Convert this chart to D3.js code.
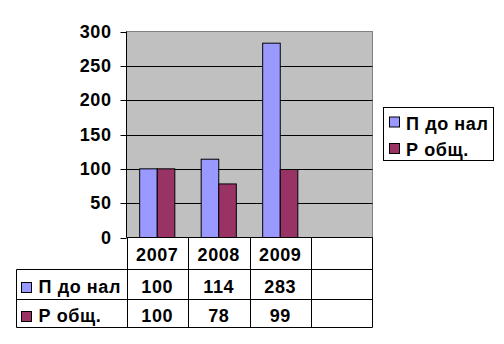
<!DOCTYPE html>
<html>
<head>
<meta charset="utf-8">
<script src="https://cdn.jsdelivr.net/npm/d3@7"></script>
<style>
  html, body { margin: 0; padding: 0; background: #fff; }
  svg text { font-family: Arial, "Liberation Sans", sans-serif; font-weight: bold; fill: #000; letter-spacing: 0.6px; }
</style>
</head>
<body>
<svg id="chart" width="504" height="344"></svg>
<script>
// Years shown along the table header; the last column is left blank.
const categories = ["2007", "2008", "2009", ""];
const seriesNames = ["П до нал", "Р общ."];
const seriesColors = ["#9999FF", "#993366"];
const profitBeforeTax = [100, 114, 283];
const totalCosts = [100, 78, 99];
const yTicks = [0, 50, 100, 150, 200, 250, 300];

const seriesValues = [profitBeforeTax, totalCosts];

const svg = d3.select("#chart");
const plot = { left: 126.5, right: 372.5, top: 31.5, bottom: 237.5 };
const fontSize = 18;

const x = d3.scaleBand().domain(categories).range([plot.left, plot.right]);
const xInner = d3.scaleBand().domain(seriesNames).range([0, x.bandwidth()])
  .paddingInner(0).paddingOuter(0.75);
const y = d3.scaleLinear().domain([0, 300]).range([plot.bottom, plot.top]);

// Plot area background
svg.append("rect")
  .attr("x", plot.left).attr("y", plot.top)
  .attr("width", plot.right - plot.left).attr("height", plot.bottom - plot.top)
  .attr("fill", "#C0C0C0").attr("stroke", "#808080").attr("stroke-width", 1);

// Horizontal gridlines
svg.append("g").selectAll("line").data(yTicks.filter(d => d > 0 && d < 300)).join("line")
  .attr("x1", plot.left).attr("x2", plot.right)
  .attr("y1", d => Math.round(y(d)) + 0.5).attr("y2", d => Math.round(y(d)) + 0.5)
  .attr("stroke", "#000").attr("stroke-width", 1);

// Bars
const barData = [];
seriesNames.forEach((name, si) => {
  seriesValues[si].forEach((v, ci) => barData.push({ cat: categories[ci], name, v, color: seriesColors[si] }));
});
svg.append("g").selectAll("rect").data(barData).join("rect")
  .attr("x", d => x(d.cat) + xInner(d.name))
  .attr("y", d => y(d.v))
  .attr("width", xInner.bandwidth())
  .attr("height", d => plot.bottom - y(d.v))
  .attr("fill", d => d.color)
  .attr("stroke", "#000").attr("stroke-width", 1);

// Y axis
const yAxis = svg.append("g")
  .attr("transform", `translate(${plot.left},0)`)
  .call(d3.axisLeft(y).tickValues(yTicks).tickSize(6).tickPadding(9));
yAxis.select(".domain").attr("stroke", "#000").attr("d", `M0,${plot.top}V${plot.bottom}`);
yAxis.selectAll(".tick line").attr("stroke", "#000");
yAxis.selectAll(".tick text")
  .attr("font-size", fontSize).attr("font-family", null).attr("fill", "#000");
yAxis.selectAll(".tick").attr("transform", d => `translate(0,${Math.round(y(d)) + 0.5})`);

// Data table underneath the plot
const table = { left: 16.5, rows: [237.5, 269.5, 299.5, 327.5] };
const tg = svg.append("g").attr("stroke", "#000").attr("stroke-width", 1);
// horizontal rules
tg.append("line").attr("x1", plot.left).attr("x2", plot.right)
  .attr("y1", table.rows[0]).attr("y2", table.rows[0]);
table.rows.slice(1).forEach(r => {
  tg.append("line").attr("x1", table.left).attr("x2", plot.right).attr("y1", r).attr("y2", r);
});
// vertical rules
tg.append("line").attr("x1", table.left).attr("x2", table.left)
  .attr("y1", table.rows[1]).attr("y2", table.rows[3]);
categories.forEach(c => {
  const xx = Math.round(x(c)) + 0.5;
  tg.append("line").attr("x1", xx).attr("x2", xx).attr("y1", table.rows[0]).attr("y2", table.rows[3]);
});
tg.append("line").attr("x1", plot.right).attr("x2", plot.right)
  .attr("y1", table.rows[0]).attr("y2", table.rows[3]);

// header labels
svg.append("g").selectAll("text").data(categories).join("text")
  .attr("x", d => x(d) + x.bandwidth() / 2)
  .attr("y", 260.5)
  .attr("text-anchor", "middle").attr("font-size", fontSize)
  .text(d => d);

// value rows
const rowBaselines = [292.5, 321.5];
seriesNames.forEach((name, si) => {
  svg.append("g").selectAll("text").data(seriesValues[si]).join("text")
    .attr("x", (d, i) => x(categories[i]) + x.bandwidth() / 2)
    .attr("y", rowBaselines[si])
    .attr("text-anchor", "middle").attr("font-size", fontSize)
    .text(d => d);
  // row legend key
  svg.append("rect")
    .attr("x", 21.5).attr("y", rowBaselines[si] - 10)
    .attr("width", 10).attr("height", 10)
    .attr("fill", seriesColors[si]).attr("stroke", "#000");
  svg.append("text")
    .attr("x", 38.5).attr("y", rowBaselines[si])
    .attr("font-size", fontSize)
    .text(name);
});

// Legend box
const legend = svg.append("g");
legend.append("rect")
  .attr("x", 383.5).attr("y", 107.5).attr("width", 110).attr("height", 53)
  .attr("fill", "#fff").attr("stroke", "#000");
const legendBaselines = [129.5, 156];
seriesNames.forEach((name, si) => {
  legend.append("rect")
    .attr("x", 389.5).attr("y", legendBaselines[si] - 12.5)
    .attr("width", 10).attr("height", 10)
    .attr("fill", seriesColors[si]).attr("stroke", "#000");
  legend.append("text")
    .attr("x", 406).attr("y", legendBaselines[si])
    .attr("font-size", fontSize)
    .text(name);
});
</script>
</body>
</html>
